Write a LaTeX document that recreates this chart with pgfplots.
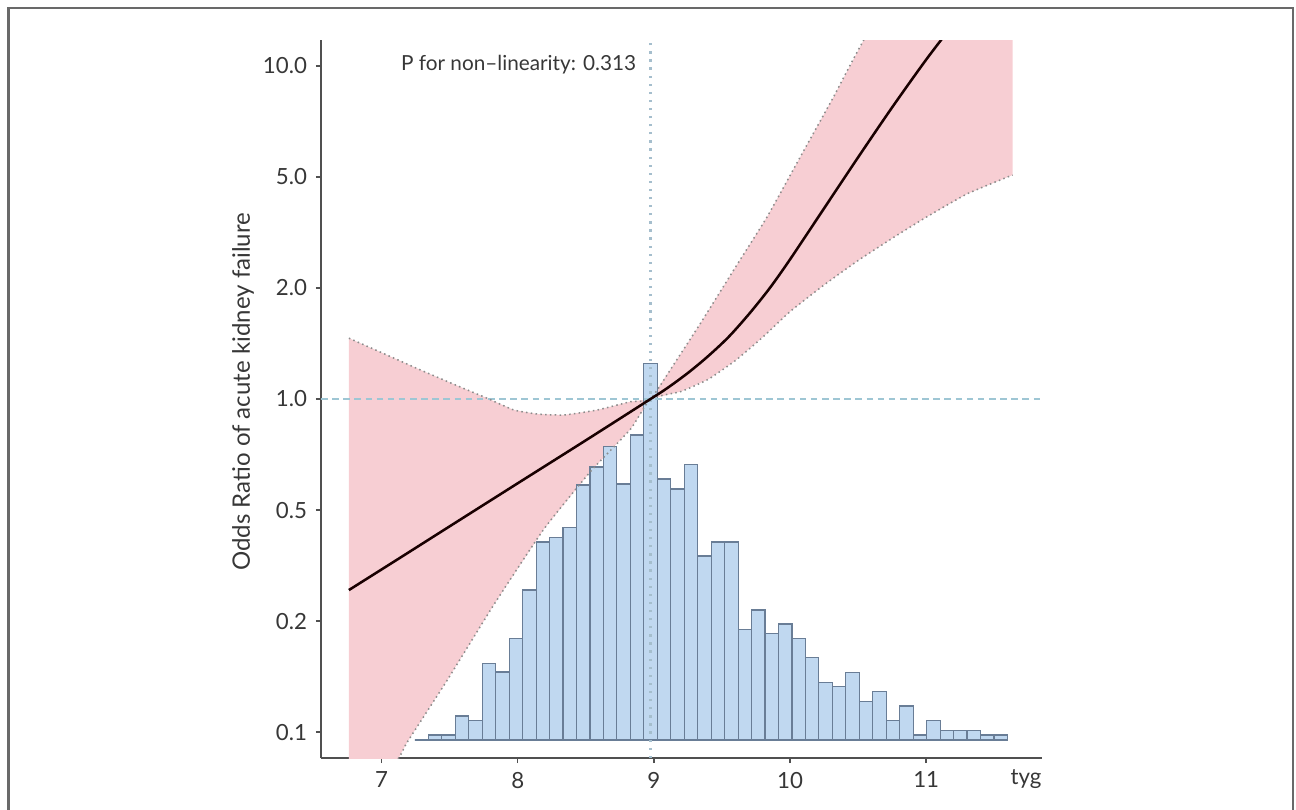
\documentclass[border=0pt]{standalone}
\usepackage{fontspec}
\setmainfont{Lato}
\usepackage{pgfplots}
\usepackage{pgfplotstable}
\pgfplotsset{compat=1.18}

\definecolor{band}{RGB}{247,206,211}
\definecolor{bandline}{RGB}{140,140,140}
\definecolor{barfill}{RGB}{192,216,240}
\definecolor{baredge}{RGB}{105,125,150}
\definecolor{refline}{RGB}{158,198,212}
\definecolor{refdots}{RGB}{165,190,205}
\definecolor{axisgray}{RGB}{80,80,80}
\definecolor{labelgray}{RGB}{55,55,55}
\definecolor{framegray}{RGB}{105,105,105}

% y is in display units: the ticks 0.1 ... 10.0 sit evenly spaced, histogram base at 0
\pgfplotstableread{
x u
6.760 1.351
7.140 1.645
7.500 1.925
8.000 2.313
8.500 2.700
8.975 3.072
9.100 3.172
9.250 3.307
9.400 3.460
9.550 3.633
9.700 3.840
9.850 4.070
10.000 4.330
10.250 4.790
10.500 5.250
10.750 5.700
11.000 6.130
11.200 6.450
}\fitcurve

\pgfplotstableread{
x u
6.760 3.620
7.000 3.490
7.287 3.333
7.550 3.195
7.777 3.078
7.972 2.973
8.144 2.937
8.339 2.928
8.584 2.973
8.828 3.048
8.975 3.072
9.160 3.410
9.342 3.754
9.586 4.234
9.832 4.714
10.076 5.255
10.320 5.795
10.541 6.306
11.634 8.700
}\upperci

\pgfplotstableread{
x u
6.760 -0.810
7.125 -0.162
7.189 -0.018
7.483 0.541
7.825 1.220
8.192 1.900
8.535 2.420
8.828 2.800
8.975 3.072
9.200 3.140
9.400 3.250
9.600 3.420
9.800 3.630
10.000 3.860
10.250 4.100
10.500 4.320
10.750 4.520
11.000 4.710
11.300 4.920
11.634 5.090
}\lowerci

% confidence band outline: upper limit left to right, then lower limit back
\pgfplotstableread{
x u
6.760 3.620
7.000 3.490
7.287 3.333
7.550 3.195
7.777 3.078
7.972 2.973
8.144 2.937
8.339 2.928
8.584 2.973
8.828 3.048
8.975 3.072
9.160 3.410
9.342 3.754
9.586 4.234
9.832 4.714
10.076 5.255
10.320 5.795
10.541 6.306
11.634 8.700
11.634 5.090
11.300 4.920
11.000 4.710
10.750 4.520
10.500 4.320
10.250 4.100
10.000 3.860
9.800 3.630
9.600 3.420
9.400 3.250
9.200 3.140
8.975 3.072
8.828 2.800
8.535 2.420
8.192 1.900
7.825 1.220
7.483 0.541
7.189 -0.018
7.125 -0.162
6.760 -0.810
}\bandpoly

% histogram: left bin edge, bar height (last row closes the interval)
\pgfplotstableread{
x h
7.2446 0
7.3435 0.045
7.4424 0.045
7.5413 0.216
7.6402 0.174
7.7391 0.691
7.8380 0.613
7.9369 0.913
8.0358 1.351
8.1347 1.784
8.2336 1.826
8.3325 1.914
8.4314 2.297
8.5303 2.459
8.6292 2.642
8.7281 2.306
8.8270 2.748
8.9259 3.394
9.0248 2.351
9.1237 2.261
9.2226 2.484
9.3215 1.658
9.4204 1.784
9.5193 1.784
9.6182 0.997
9.7171 1.171
9.8160 0.961
9.9149 1.045
10.0138 0.914
10.1127 0.741
10.2116 0.520
10.3105 0.480
10.4094 0.610
10.5083 0.345
10.6072 0.435
10.7061 0.173
10.8050 0.306
10.9039 0.045
11.0028 0.174
11.1017 0.083
11.2006 0.083
11.2995 0.083
11.3984 0.045
11.4973 0.045
11.5962 0
}\histdata

\begin{document}
\begin{tikzpicture}
\useasboundingbox (0,0) rectangle (18cm,11.25cm);
\draw[framegray, line width=0.8pt] (0.118cm,-0.2cm) -- (0.118cm,11.145cm) -- (17.955cm,11.145cm) -- (17.955cm,-0.2cm);
\begin{axis}[
  at={(4.458cm,0.722cm)}, anchor=south west,
  scale only axis, width=10.014cm, height=9.972cm,
  xmin=6.555, xmax=11.85, ymin=-0.162, ymax=6.306,
  axis x line=bottom, axis y line=left,
  axis line style={-, draw=axisgray, line width=0.7pt},
  xtick={7,8,9,10,11},
  ytick={0.072,1.072,2.072,3.072,4.072,5.072,6.072},
  yticklabels={0.1,0.2,0.5,1.0,2.0,5.0,10.0},
  tick align=outside, major tick length=0.07cm,
  tick style={draw=axisgray, line width=0.6pt},
  /pgf/number format/assume math mode=true,
  tick label style={font=\fontsize{8.8}{10}\selectfont, text=labelgray},
  xlabel={tyg},
  xlabel style={at={(axis description cs:1,0)}, anchor=north east, inner sep=0pt,
    yshift=-0.16cm, font=\fontsize{8.8}{10}\selectfont, text=labelgray},
  ylabel={Odds Ratio of acute kidney failure},
  ylabel style={at={(axis description cs:-0.108,0.51)}, anchor=center,
    font=\fontsize{9.5}{11}\selectfont, text=labelgray},
]
\addplot[fill=band, draw=none] table {\bandpoly} -- cycle;

\addplot[ybar interval, fill=barfill, draw=baredge, line width=0.45pt] table {\histdata};

\addplot[refline, line width=0.6pt, dash pattern=on 2.6pt off 1.8pt] coordinates {(6.555,3.072) (11.85,3.072)};
\addplot[refdots, line width=0.9pt, dash pattern=on 0.9pt off 2.3pt] coordinates {(8.975,-0.162) (8.975,6.306)};

\addplot[bandline, line width=0.6pt, dash pattern=on 0.6pt off 1.3pt, smooth, tension=0.3] table {\upperci};
\addplot[bandline, line width=0.6pt, dash pattern=on 0.6pt off 1.3pt, smooth, tension=0.3] table {\lowerci};

\addplot[black!90!red, line width=1pt, smooth, tension=0.5] table {\fitcurve};

\node[anchor=base west, inner sep=0pt, font=\fontsize{8.2}{10}\selectfont, text=labelgray]
  at (axis cs:7.14,6.03) {P for non–linearity: 0.313};
\end{axis}
\end{tikzpicture}
\end{document}
